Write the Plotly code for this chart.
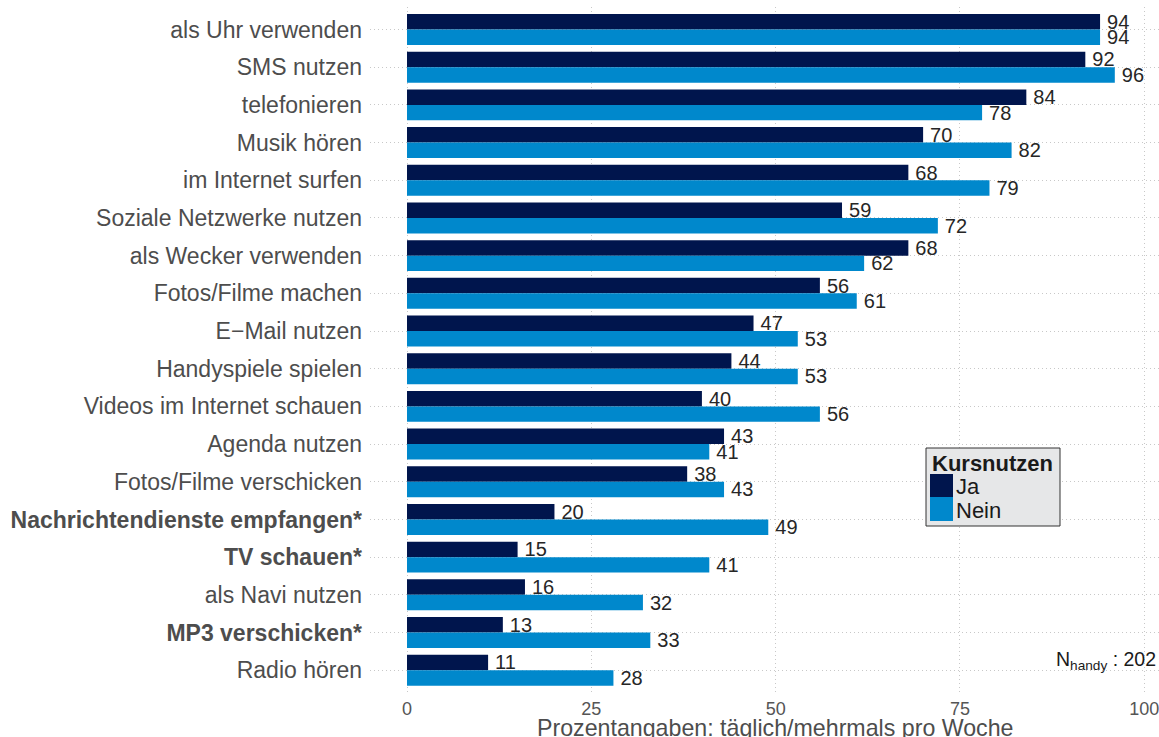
import plotly.graph_objects as go

categories = [
    "als Uhr verwenden", "SMS nutzen", "telefonieren", "Musik hören",
    "im Internet surfen", "Soziale Netzwerke nutzen", "als Wecker verwenden",
    "Fotos/Filme machen", "E\u2212Mail nutzen", "Handyspiele spielen",
    "Videos im Internet schauen", "Agenda nutzen", "Fotos/Filme verschicken",
    "Nachrichtendienste empfangen*", "TV schauen*", "als Navi nutzen",
    "MP3 verschicken*", "Radio hören",
]
bold_categories = ["Nachrichtendienste empfangen*", "TV schauen*", "MP3 verschicken*"]
ja_values = [94, 92, 84, 70, 68, 59, 68, 56, 47, 44, 40, 43, 38, 20, 15, 16, 13, 11]
nein_values = [94, 96, 78, 82, 79, 72, 62, 61, 53, 53, 56, 41, 43, 49, 41, 32, 33, 28]
series_names = ["Ja", "Nein"]
x_ticks = [0, 25, 50, 75, 100]
legend_title = "Kursnutzen"
x_title = "Prozentangaben: täglich/mehrmals pro Woche"
n_label = "N<sub>handy</sub> : 202"

COL_JA = "#00154D"
COL_NEIN = "#0088CC"

W, H = 1159, 737
PANEL_L, PANEL_T, PANEL_B = 370, 7, 693
ML, MT, MR = PANEL_L, PANEL_T, 0
MB = H - PANEL_B
PW, PH = W - ML - MR, H - MT - MB
ROW0, ROWN = 29.5, 670.2             # pixel centres of first/last category
unit = (ROWN - ROW0) / (len(categories) - 1)
y_top = -(ROW0 - PANEL_T) / unit
y_bot = (len(categories) - 1) + (PANEL_B - ROWN) / unit
XPX = 7.373                          # pixels per percent
x_min = -(407 - PANEL_L) / XPX
x_max = x_min + PW / XPX


def px_x(X):
    return (X - PANEL_L) / PW


def px_y(Y):
    return (PANEL_B - Y) / PH


ticktext = ["<b>%s</b>" % c if c in bold_categories else c for c in categories]

fig = go.Figure()
for name, vals, col in [(series_names[0], ja_values, COL_JA), (series_names[1], nein_values, COL_NEIN)]:
    fig.add_trace(go.Bar(
        y=categories, x=vals, orientation="h", name=name,
        marker=dict(color=col, line=dict(width=0)),
        text=["\u2009" + str(v) for v in vals], textposition="outside",
        textfont=dict(size=20, color="#262626", family="Liberation Sans, Arial"),
        constraintext="none", cliponaxis=False, showlegend=False,
        hoverinfo="skip",
    ))

GRID = dict(showgrid=True, gridcolor="#C8C8C8", griddash="1px,3px", gridwidth=1,
            zeroline=False, showline=False, ticks="", ticklabeloverflow="allow")

fig.update_layout(
    width=W, height=H,
    margin=dict(l=ML, r=MR, t=MT, b=MB, pad=0),
    paper_bgcolor="white", plot_bgcolor="white",
    barmode="group", bargap=0.18, bargroupgap=0,
    font=dict(family="Liberation Sans, Arial", color="#4D4D4D"),
    hovermode=False,
    xaxis=dict(
        range=[x_min, x_max], tickvals=x_ticks, ticktext=[str(t) for t in x_ticks],
        tickfont=dict(size=18, color="#555555"), ticklabelstandoff=3, **GRID,
    ),
    yaxis=dict(
        categoryorder="array", categoryarray=categories,
        tickvals=categories, ticktext=ticktext,
        range=[y_bot, y_top],
        tickfont=dict(size=23, color="#4D4D4D"), ticklabelstandoff=7, **GRID,
    ),
)

annotations = [
    dict(text=x_title, x=px_x(775), y=px_y(728), xref="paper", yref="paper",
         xanchor="center", yanchor="middle", showarrow=False,
         font=dict(size=23.2, color="#4D4D4D")),
    dict(text=n_label, x=px_x(1158), y=px_y(660), xref="paper", yref="paper",
         xanchor="right", yanchor="middle", showarrow=False,
         font=dict(size=19.5, color="#1A1A1A")),
    dict(text="<b>%s</b>" % legend_title, x=px_x(930), y=px_y(463), xref="paper", yref="paper",
         xanchor="left", yanchor="middle", showarrow=False,
         font=dict(size=22, color="#1A1A1A")),
    dict(text=series_names[0], x=px_x(954), y=px_y(486), xref="paper", yref="paper",
         xanchor="left", yanchor="middle", showarrow=False,
         font=dict(size=22, color="#1A1A1A")),
    dict(text=series_names[1], x=px_x(954), y=px_y(510), xref="paper", yref="paper",
         xanchor="left", yanchor="middle", showarrow=False,
         font=dict(size=22, color="#1A1A1A")),
]
shapes = [
    dict(type="rect", xref="paper", yref="paper", x0=px_x(926), x1=px_x(1060),
         y0=px_y(526), y1=px_y(448), fillcolor="#E6E7E8",
         line=dict(color="#333333", width=1), layer="above"),
    dict(type="rect", xref="paper", yref="paper", x0=px_x(930), x1=px_x(953),
         y0=px_y(497), y1=px_y(474), fillcolor=COL_JA, line=dict(width=0), layer="above"),
    dict(type="rect", xref="paper", yref="paper", x0=px_x(930), x1=px_x(953),
         y0=px_y(521), y1=px_y(497), fillcolor=COL_NEIN, line=dict(width=0), layer="above"),
]
fig.update_layout(annotations=annotations, shapes=shapes)
fig.write_html("out.html", config={"displayModeBar": False},
               post_script="document.body.style.margin='0px';")
